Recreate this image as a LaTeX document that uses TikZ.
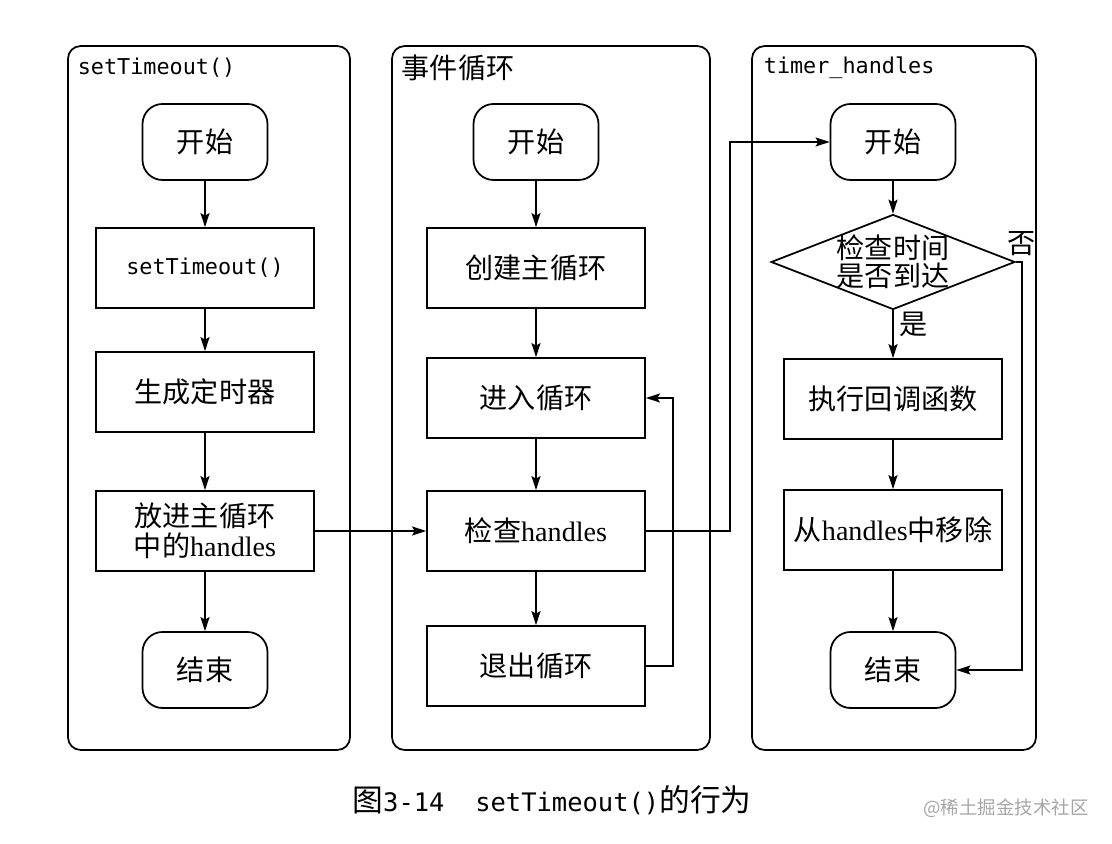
\documentclass[tikz,border=0pt]{standalone}
\usepackage{fontspec}
\setmainfont{Liberation Serif}
\setmonofont{DejaVu Sans Mono}
\newfontfamily\cjk{Noto Sans CJK SC}
\usetikzlibrary{arrows.meta,positioning,shapes.geometric}

\begin{document}
\begin{tikzpicture}[x=0.02cm,y=-0.02cm,
  line width=1pt,
  pnl/.style={draw,rounded corners=0.25cm,minimum width=#1,minimum height=14.08cm,inner sep=0pt},
  bx/.style={draw,minimum width=4.36cm,minimum height=1.6cm,inner sep=2pt,align=center,
    font=\fontsize{16}{17}\selectfont},
  rd/.style={draw,rounded corners=0.4cm,minimum width=2.5cm,minimum height=1.52cm,
    font=\fontsize{16}{17}\selectfont\cjk},
  ttl/.style={anchor=west,inner sep=0pt,font=\fontsize{16}{17}\selectfont},
  mn/.style={font=\fontsize{12.4}{14}\selectfont\ttfamily},
  dm/.style={draw,diamond,minimum width=4.88cm,minimum height=1.9cm,inner sep=0pt},
  ar/.style={-{Stealth[length=2.8mm,width=1.8mm,inset=0.5mm]}}]
  \useasboundingbox (0,0) rectangle (1112,844);
  % the three lanes
  \node[pnl=5.64cm] (P1) at (209,398) {};
  \node[pnl=6.36cm] (P2) at (551,398) {};
  \node[pnl=5.68cm] (P3) at (894,398) {};
  \node[ttl,mn] (h1) at (77,68) {setTimeout()};
  \node[ttl] (h2) at (401,68) {\cjk 事件循环};
  \node[ttl,mn] (h3) at (763,68) {timer\_handles};
  % setTimeout()
  \node[rd] (s1) at (205,142) {开始};
  \node[bx,mn] (t1) at (205,268) {setTimeout()};
  \node[bx] (g1) at (205,392) {\cjk 生成定时器};
  \node[bx] (p1) at (205,531) {{\cjk 放进主循环}\\{\cjk 中的}handles};
  \node[rd] (e1) at (205,670) {结束};
  % event loop
  \node[rd] (s2) at (536,142) {开始};
  \node[bx] (c2) at (536,268) {\cjk 创建主循环};
  \node[bx] (j2) at (536,398) {\cjk 进入循环};
  \node[bx] (k2) at (536,531) {{\cjk 检查}handles};
  \node[bx] (q2) at (536,666) {\cjk 退出循环};
  % timer_handles
  \node[rd] (s3) at (893,142) {开始};
  \node[dm] (chk) at (893,262) {};
  \node[align=center,inner sep=0pt,font=\fontsize{16}{16}\selectfont\cjk] (chkt) at (chk) {检查时间\\是否到达};
  \node[bx] (x3) at (893,399) {\cjk 执行回调函数};
  \node[bx] (r3) at (893,530) {{\cjk 从}handles{\cjk 中移除}};
  \node[rd] (e3) at (893,670) {结束};
  % connectors
  \foreach \a/\b in {s1/t1,t1/g1,g1/p1,p1/e1,s2/c2,c2/j2,j2/k2,k2/q2,s3/chk,x3/r3,r3/e3}
    \draw[ar] (\a) -- (\b);
  \draw[ar] (p1) -- (k2);
  \draw[ar] (q2.east) -- ++(27,0) |- (j2.east);
  \draw[ar] (k2.east) -- ++(84,0) |- (s3.west);
  \draw[ar] (chk) -- node[right,pos=0.3,inner sep=3pt,font=\fontsize{16}{17}\selectfont\cjk]{是} (x3);
  \draw[ar] (chk.east) -- ++(6,0) node[above,inner sep=3pt,font=\fontsize{16}{17}\selectfont\cjk]{否} |- (e3.east);
  % caption
  \node[font=\fontsize{17.5}{20}\selectfont] (cap) at (552,800)
    {{\cjk 图}{\ttfamily\fontsize{14.5}{17}\selectfont 3-14}{\cjk 　}{\ttfamily\fontsize{14.5}{17}\selectfont setTimeout()}{\cjk 的行为}};
  \node[text=gray!70,font=\fontsize{10.5}{12}\selectfont\cjk] (wm) at (1006,808) {@稀土掘金技术社区};
\end{tikzpicture}
\end{document}
